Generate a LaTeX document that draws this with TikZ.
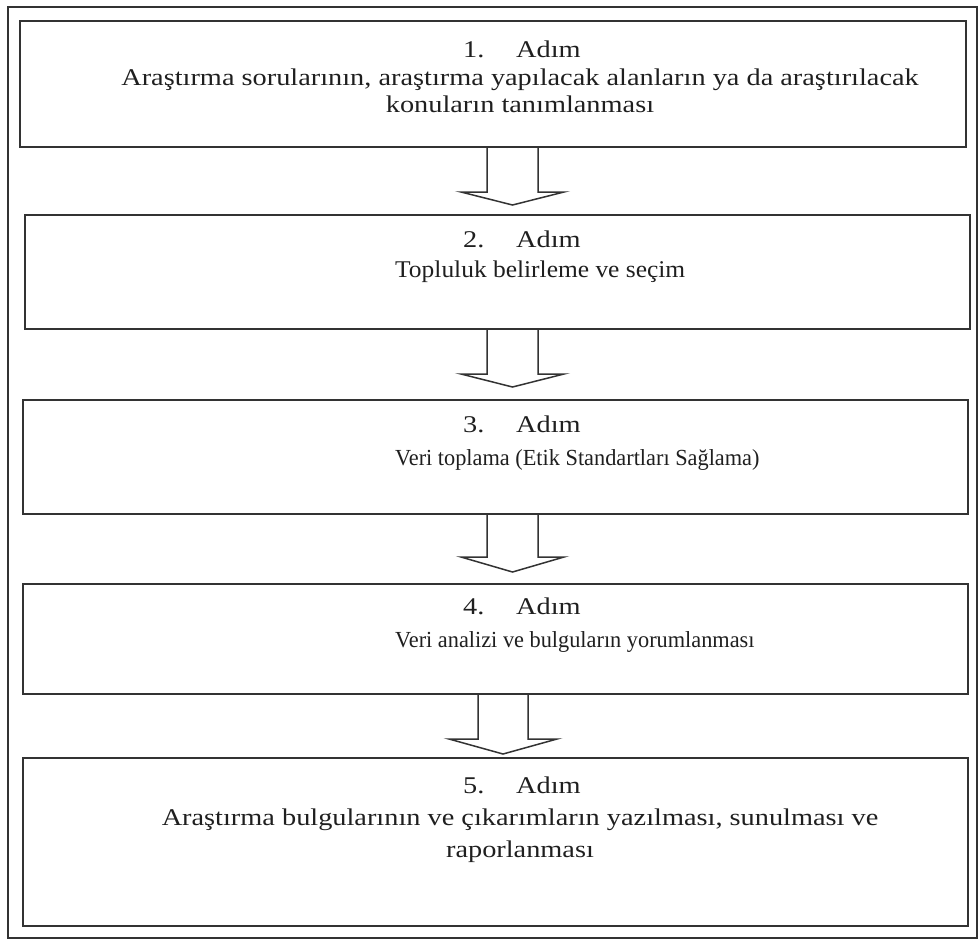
\documentclass[tikz,border=0pt]{standalone}
\usepackage{fontspec}
\setmainfont{Liberation Serif}
\newcommand\blockarr[6]{\draw[blockarrow] (#1.south) ++(#2,0) -- ++(0,#3) -- ++(-#5,0) -- ++({#4+#5},#6) -- ++({#4+#5},-#6) -- ++(-#5,0) -- ++(0,-#3);}
\newcommand\hsc[2]{\scalebox{#1}[1]{#2}}
\begin{document}
\begin{tikzpicture}[x=1pt,y=-1pt,
  frame/.style={draw=black!80, line width=2pt},
  stepbox/.style={draw=black!80, line width=2pt, inner sep=0pt, anchor=north west},
  blockarrow/.style={draw=black!80, line width=1.5pt, line join=miter},
  txt/.style={inner sep=0pt, anchor=base, text=black!88, font=\fontsize{24}{27}\selectfont},
  txtl/.style={txt, anchor=base west},
  txtm/.style={txtl, font=\fontsize{23}{27}\selectfont}]
\useasboundingbox (0,0) rectangle (979,940);
\draw[frame] (8,7) rectangle (977,938);
% boxes
\node[stepbox, minimum width=946, minimum height=126] (b1) at (19,20) {};
\node[stepbox, minimum width=945, minimum height=114] (b2) at (24,214) {};
\node[stepbox, minimum width=945, minimum height=114] (b3) at (22,399) {};
\node[stepbox, minimum width=945, minimum height=110] (b4) at (22,583) {};
\node[stepbox, minimum width=945, minimum height=168] (b5) at (22,757) {};
% arrows
\blockarr{b1}{-6}{44}{25.5}{26}{13}
\blockarr{b2}{-10.5}{44}{25.5}{26}{13}
\blockarr{b3}{-8.5}{42}{25.5}{26}{15}
\blockarr{b4}{-17.5}{44}{25}{29}{15}
% texts
\node[txtl] (n1) at (463,57) {\hsc{1.18}{1.}};
\node[txtl] (a1) at (516,57) {\hsc{1.18}{Adım}};
\node[txt] (t1a) at (520,85) {\hsc{1.18}{Araştırma sorularının, araştırma yapılacak alanların ya da araştırılacak}};
\node[txt] (t1b) at (520,112) {\hsc{1.18}{konuların tanımlanması}};
\node[txtl] (n2) at (463,247) {\hsc{1.18}{2.}};
\node[txtl] (a2) at (516,247) {\hsc{1.18}{Adım}};
\node[txtl] (t2) at (395,277) {\hsc{1.06}{Topluluk belirleme ve seçim}};
\node[txtl] (n3) at (463,432) {\hsc{1.18}{3.}};
\node[txtl] (a3) at (516,432) {\hsc{1.18}{Adım}};
\node[txtm] (t3) at (395,465) {\hsc{0.97}{Veri toplama (Etik Standartları Sağlama)}};
\node[txtl] (n4) at (463,614) {\hsc{1.18}{4.}};
\node[txtl] (a4) at (516,614) {\hsc{1.18}{Adım}};
\node[txtm] (t4) at (395,647) {\hsc{0.97}{Veri analizi ve bulguların yorumlanması}};
\node[txtl] (n5) at (463,793) {\hsc{1.18}{5.}};
\node[txtl] (a5) at (516,793) {\hsc{1.18}{Adım}};
\node[txt] (t5a) at (520,825) {\hsc{1.18}{Araştırma bulgularının ve çıkarımların yazılması, sunulması ve}};
\node[txt] (t5b) at (520,857) {\hsc{1.18}{raporlanması}};
\end{tikzpicture}
\end{document}
